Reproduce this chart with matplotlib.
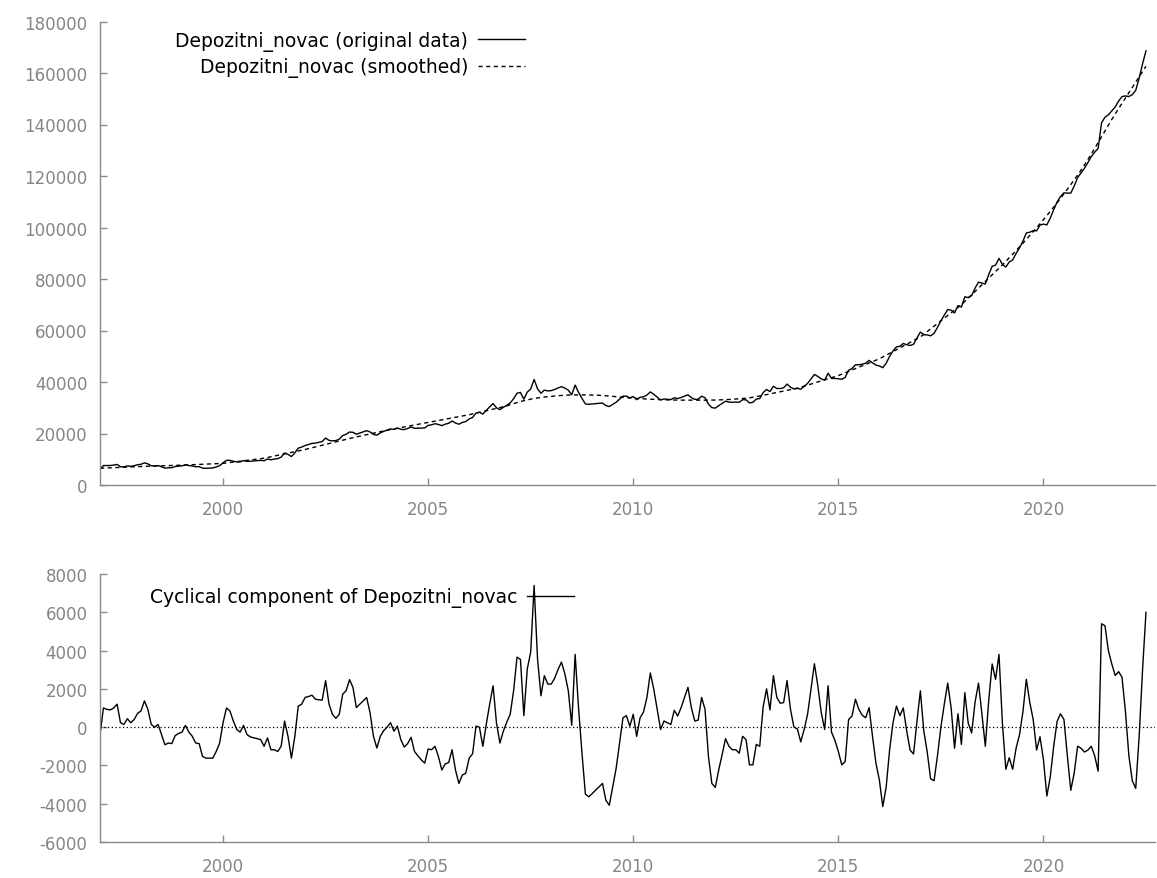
import numpy as np
import matplotlib
matplotlib.use("Agg")
import matplotlib.pyplot as plt
from matplotlib.ticker import FixedLocator

# ---------------- data (monthly, 1997:01 .. 2022:07) ----------------
start_year = 1997
series_name = "Depozitni_novac"

trend = [
    6500, 6560, 6620, 6670, 6730, 6790, 6850, 6910, 6970, 7030, 7090, 7150,
    7200, 7240, 7280, 7330, 7370, 7410, 7450, 7490, 7530, 7580, 7620, 7660,
    7700, 7760, 7820, 7870, 7930, 7990, 8050, 8110, 8170, 8230, 8280, 8340,
    8400, 8560, 8730, 8900, 9070, 9230, 9400, 9570, 9730, 9900, 10070, 10230,
    10400, 10680, 10970, 11250, 11530, 11820, 12100, 12380, 12670, 12950, 13230, 13520,
    13800, 14130, 14470, 14800, 15130, 15470, 15800, 16130, 16470, 16800, 17130, 17470,
    17800, 18090, 18380, 18680, 18970, 19260, 19550, 19840, 20130, 20430, 20720, 21010,
    21300, 21550, 21800, 22050, 22300, 22550, 22800, 23050, 23300, 23550, 23800, 24050,
    24300, 24550, 24800, 25050, 25300, 25550, 25800, 26050, 26300, 26550, 26800, 27050,
    27300, 27610, 27920, 28230, 28530, 28840, 29150, 29460, 29770, 30080, 30380, 30690,
    31200, 31600, 32000, 32400, 32750, 33050, 33350, 33600, 33800, 34000, 34150, 34300,
    34400, 34550, 34680, 34780, 34860, 34920, 34960, 34990, 35000, 35000, 34990, 34970,
    34940, 34900, 34840, 34760, 34660, 34550, 34430, 34300, 34170, 34040, 33910, 33800,
    33700, 33620, 33540, 33460, 33390, 33320, 33250, 33190, 33140, 33090, 33050, 33020,
    33000, 32980, 32960, 32950, 32940, 32930, 32930, 32930, 32940, 32950, 32960, 32980,
    33000, 33040, 33090, 33150, 33220, 33300, 33390, 33490, 33600, 33720, 33850, 34070,
    34300, 34560, 34830, 35100, 35380, 35650, 35930, 36200, 36480, 36760, 37040, 37320,
    37600, 37990, 38390, 38790, 39200, 39610, 40020, 40430, 40840, 41250, 41660, 42080,
    42500, 43040, 43580, 44130, 44670, 45210, 45750, 46290, 46830, 47380, 47920, 48460,
    49000, 49710, 50420, 51130, 51830, 52540, 53250, 53960, 54670, 55380, 56080, 56790,
    57500, 58540, 59580, 60630, 61670, 62710, 63750, 64790, 65830, 66880, 67920, 68960,
    70000, 71290, 72580, 73880, 75170, 76460, 77750, 79040, 80330, 81630, 82920, 84210,
    85500, 86850, 88220, 89610, 91020, 92450, 93900, 95370, 96860, 98370, 99900, 101450,
    103020, 104620, 106250, 107910, 109600, 111320, 113070, 114850, 116660, 118500, 120370, 122270,
    124300, 126400, 128550, 130750, 133000, 135250, 137500, 139750, 141950, 144100, 146200, 148250,
    150300, 152350, 154400, 156450, 158500, 160550, 162600, 164600,
]

cycle = [
    -400, 1000, 930, 900, 1000, 1200, 230, 140, 440, 230, 400, 720,
    850, 1370, 930, 140, 0, 140, -390, -920, -830, -860, -440, -330,
    -260, 90, -260, -480, -830, -860, -1530, -1620, -1620, -1620, -1270, -830,
    230, 1000, 850, 320, -120, -260, 90, -390, -510, -560, -600, -650,
    -1000, -560, -1180, -1180, -1270, -1000, 320, -480, -1620, -480, 1100, 1200,
    1550, 1600, 1670, 1460, 1430, 1410, 2430, 1200, 670, 460, 670, 1720,
    1900, 2480, 2080, 1020, 1200, 1370, 1550, 760, -480, -1090, -480, -180,
    0, 230, -210, 50, -650, -1040, -860, -530, -1270, -1500, -1710, -1880,
    -1140, -1180, -1000, -1530, -2240, -1920, -1850, -1180, -2240, -2940, -2500, -2410,
    -1620, -1390, 50, 0, -1000, 140, 1200, 2160, 200, -830, -210, 260,
    670, 1900, 3660, 3540, 600, 3040, 3920, 7400, 3570, 1640, 2690, 2250,
    2250, 2550, 3010, 3400, 2780, 1900, 100, 3800, 1000, -1350, -3500, -3640,
    -3470, -3290, -3120, -2940, -3820, -4080, -3120, -2150, -830, 490, 600, 50,
    670, -480, 490, 790, 1550, 2830, 1990, 930, -120, 320, 230, 140,
    880, 580, 1020, 1550, 2080, 1020, 320, 370, 1550, 930, -1530, -2940,
    -3150, -2240, -1440, -600, -1000, -1180, -1180, -1360, -480, -650, -1970, -1970,
    -900, -1000, 1050, 2000, 900, 2690, 1550, 1250, 1280, 2430, 930, 0,
    -90, -770, -120, 670, 1990, 3310, 2160, 760, -120, 2160, -260, -690,
    -1270, -1970, -1800, 400, 580, 1460, 930, 620, 490, 1020, -480, -1880,
    -2760, -4150, -3120, -1180, 230, 1100, 600, 1000, -200, -1200, -1400, 300,
    1900, -200, -1300, -2700, -2800, -1500, 0, 1200, 2300, 1000, -1100, 700,
    -900, 1800, 200, -300, 1300, 2300, 700, -1000, 1400, 3300, 2500, 3800,
    200, -2200, -1600, -2200, -1100, -400, 800, 2500, 1300, 400, -1200, -500,
    -1700, -3600, -2600, -1000, 300, 700, 400, -1500, -3300, -2400, -1000, -1100,
    -1300, -1200, -1000, -1500, -2300, 5400, 5300, 4000, 3300, 2700, 2900, 2600,
    800, -1500, -2800, -3200, -500, 3000, 6000,
]

x_ticks = [2000, 2005, 2010, 2015, 2020]
top_yticks = [0, 20000, 40000, 60000, 80000, 100000, 120000, 140000, 160000, 180000]
bot_yticks = [-6000, -4000, -2000, 0, 2000, 4000, 6000, 8000]

labels = [f"{series_name} (original data)", f"{series_name} (smoothed)",
          f"Cyclical component of {series_name}"]

# ---------------- derived ----------------
n = min(len(trend), len(cycle))
trend_a = np.array(trend[:n], dtype=float)
cycle_a = np.array(cycle[:n], dtype=float)
original = trend_a + cycle_a          # HP decomposition: data = trend + cycle
t = start_year + np.arange(n) / 12.0

# ---------------- figure ----------------
W, H = 1157, 879
fig = plt.figure(figsize=(W / 100, H / 100), dpi=100)
plt.rcParams['font.family'] = ['DejaVu Sans']

grey = '#8a8a8a'
label_grey = '#858585'

def px_axes(left, top, right, bottom):
    return fig.add_axes([left / W, 1 - bottom / H, (right - left) / W, (bottom - top) / H])

ax1 = px_axes(100, 22.5, 1155, 486)
ax2 = px_axes(100, 575, 1155, 843)

for ax in (ax1, ax2):
    for s in ('top', 'right'):
        ax.spines[s].set_visible(False)
    for s in ('left', 'bottom'):
        ax.spines[s].set_color(grey)
        ax.spines[s].set_linewidth(1.0)
    ax.tick_params(direction='in', length=5, width=1.0, color=grey,
                   labelcolor=label_grey, labelsize=12)
    ax.tick_params(axis='y', pad=9)
    ax.tick_params(axis='x', pad=11)
    ax.xaxis.set_major_locator(FixedLocator(x_ticks))
    ax.set_xticklabels([str(v) for v in x_ticks])
    ax.set_xlim(1997.0, 2022.72)

leg_kw = dict(frameon=False, markerfirst=False, fontsize=13.5, handlelength=2.5,
              handletextpad=0.55, labelspacing=0.33, borderpad=0.2)

# top panel
ax1.plot(t, original, color='black', lw=1.0, label=labels[0])
ax1.plot(t, trend_a, color='black', lw=1.0, ls=(0, (3, 2.5)), label=labels[1])
ax1.set_ylim(0, 180000)
ax1.yaxis.set_major_locator(FixedLocator(top_yticks))
ax1.set_yticklabels([str(v) for v in top_yticks])
ax1.legend(loc='upper right', bbox_to_anchor=(0.4156, 1.008), **leg_kw)

# bottom panel
ax2.axhline(0, color='black', lw=0.9, ls=(0, (1, 2)))
ax2.plot(t, cycle_a, color='black', lw=1.0, label=labels[2])
ax2.set_ylim(-6000, 8000)
ax2.yaxis.set_major_locator(FixedLocator(bot_yticks))
ax2.set_yticklabels([str(v) for v in bot_yticks])
ax2.legend(loc='upper right', bbox_to_anchor=(0.462, 1.0), **leg_kw)

fig.savefig('out.png', dpi=100)
